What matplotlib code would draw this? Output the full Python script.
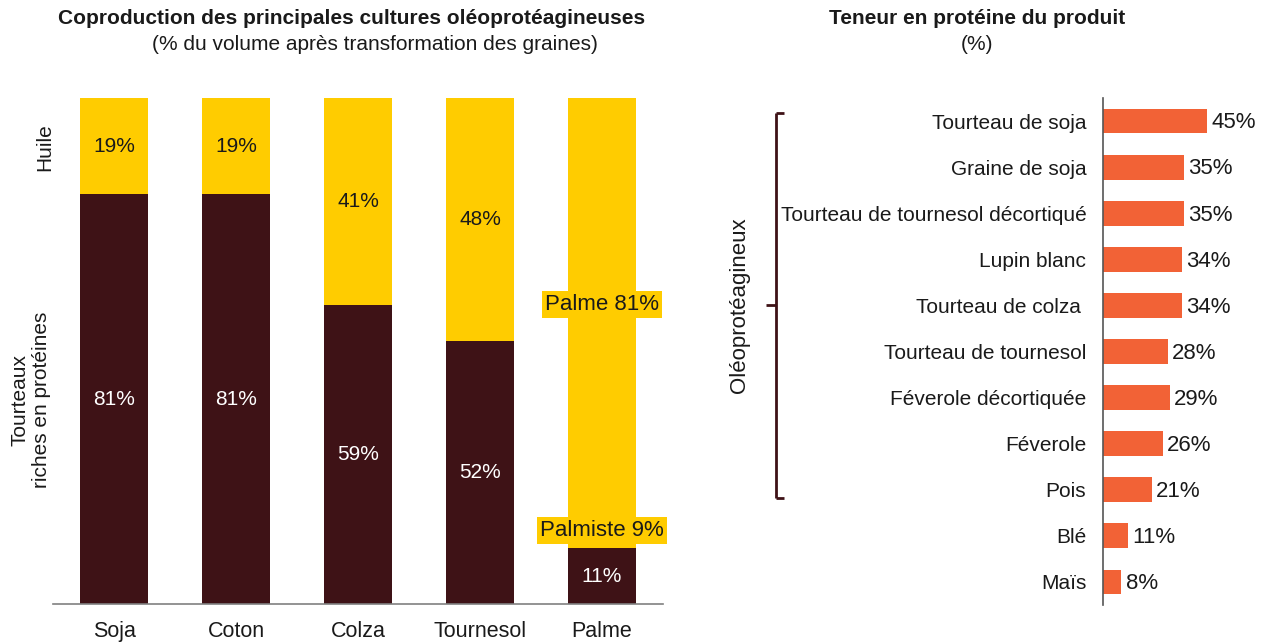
import matplotlib
matplotlib.use("Agg")
import matplotlib.pyplot as plt
from matplotlib.lines import Line2D
import matplotlib.transforms as mtransforms

# ---- data ----
crops = ["Soja", "Coton", "Colza", "Tournesol", "Palme"]
tourteaux = [81, 81, 59, 52, 11]
huile = [19, 19, 41, 48, 89]
huile_labels = ["19%", "19%", "41%", "48%", None]
palme_detail = ["Palme 81%", "Palmiste 9%"]

produits = ["Tourteau de soja", "Graine de soja", "Tourteau de tournesol décortiqué",
            "Lupin blanc", "Tourteau de colza ", "Tourteau de tournesol",
            "Féverole décortiquée", "Féverole", "Pois", "Blé", "Maïs"]
proteine = [45, 35, 35, 34, 34, 28, 29, 26, 21, 11, 8]
n_oleo = 9  # rows covered by the bracket

YELLOW = "#FFCC00"
BROWN = "#3E1216"
ORANGE = "#F26236"
TXT = "#1a1a1a"

plt.rcParams["font.family"] = ["Liberation Sans", "DejaVu Sans"]

W, H = 1269, 642
fig = plt.figure(figsize=(W / 100, H / 100), dpi=100)
fig.patch.set_facecolor("white")

def px_axes(x0, y0, x1, y1):
    return fig.add_axes([x0 / W, 1 - y1 / H, (x1 - x0) / W, (y1 - y0) / H])

# ---- left chart ----
ax = px_axes(53, 98, 663, 604)
xs = list(range(len(crops)))
ax.bar(xs, tourteaux, width=0.55, color=BROWN)
ax.bar(xs, huile, width=0.55, bottom=tourteaux, color=YELLOW)
ax.set_xlim(-0.5, len(crops) - 0.5)
ax.set_ylim(0, 100)
for s in ["top", "right", "left"]:
    ax.spines[s].set_visible(False)
ax.spines["bottom"].set_color("#808080")
ax.spines["bottom"].set_linewidth(1.2)
ax.set_yticks([])
ax.set_xticks(xs)
ax.set_xticklabels(crops, fontsize=15.5, color=TXT)
ax.tick_params(axis="x", length=0, pad=12)

for i in xs:
    ax.text(i, tourteaux[i] / 2, f"{tourteaux[i]}%", ha="center", va="center",
            color="white", fontsize=15)
    if huile_labels[i]:
        ax.text(i, tourteaux[i] + huile[i] / 2, huile_labels[i], ha="center",
                va="center", color=TXT, fontsize=15)

# palm detail labels
ax.text(4.0, 59.2, palme_detail[0], ha="center", va="center", fontsize=16,
        color=TXT, bbox=dict(boxstyle="square,pad=0.12", fc=YELLOW, ec="none"))
ax.text(4.0, 14.5, palme_detail[1], ha="center", va="center", fontsize=16,
        color=TXT, bbox=dict(boxstyle="square,pad=0.12", fc=YELLOW, ec="none"))

# side labels
fig.text(45 / W, 1 - 147 / H, "Huile", rotation=90, ha="center", va="center",
         fontsize=15, color=TXT)
fig.text(31 / W, 1 - 400 / H, "Tourteaux\nriches en protéines", rotation=90,
         ha="center", va="center", fontsize=15, color=TXT, linespacing=1.15)

fig.text(352 / W, 1 - 18 / H, "Coproduction des principales cultures oléoprotéagineuses",
         ha="center", va="center", fontsize=15, fontweight="bold", color=TXT)
fig.text(375 / W, 1 - 45 / H, "(% du volume après transformation des graines)",
         ha="center", va="center", fontsize=15, color=TXT)

# ---- right chart ----
ax2 = px_axes(1103, 98, 1262, 605)
ys = list(range(len(produits)))
ax2.barh(ys, proteine, height=0.54, color=ORANGE)
ax2.set_ylim(len(produits) - 0.5, -0.5)
ax2.set_xlim(0, (1262 - 1103) / 2.31)
for s in ["top", "right", "bottom"]:
    ax2.spines[s].set_visible(False)
ax2.spines["left"].set_color("#555555")
ax2.spines["left"].set_linewidth(1.2)
ax2.set_xticks([])
ax2.set_yticks(ys)
ax2.set_yticklabels(produits, fontsize=15, color=TXT)
ax2.tick_params(axis="y", length=0, pad=12)
for i, v in enumerate(proteine):
    ax2.text(v + 1.8, i + 0.04, f"{v}%", ha="left", va="center", fontsize=16, color=TXT)

# bracket
tr = mtransforms.blended_transform_factory(fig.transFigure, ax2.transData)
bx = 776 / W
top_y, bot_y = -0.18, n_oleo - 1 + 0.17
mid_y = (top_y + bot_y) / 2
kw = dict(color=BROWN, lw=2, transform=tr, clip_on=False, solid_capstyle="butt")
fig.add_artist(Line2D([bx, bx], [top_y, bot_y], **kw))
fig.add_artist(Line2D([bx, 784 / W], [top_y, top_y], **kw))
fig.add_artist(Line2D([bx, 784 / W], [bot_y, bot_y], **kw))
fig.add_artist(Line2D([766 / W, bx], [mid_y, mid_y], **kw))
fig.text(740 / W, 0, "Oléoprotéagineux", rotation=90, ha="center", va="center",
         fontsize=16, color=TXT, transform=tr).set_y(mid_y)

fig.text(977 / W, 1 - 18 / H, "Teneur en protéine du produit", ha="center",
         va="center", fontsize=15, fontweight="bold", color=TXT)
fig.text(977 / W, 1 - 45 / H, "(%)", ha="center", va="center", fontsize=15,
         color=TXT)

fig.savefig("out.png", dpi=100, facecolor="white")
